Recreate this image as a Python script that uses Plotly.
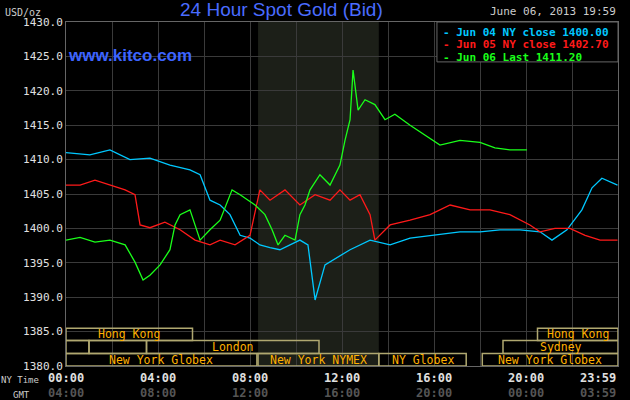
import plotly.graph_objects as go

# hours (NY time) and prices
jun04_h = [0.0, 1.04, 1.91, 2.78, 3.65, 4.52, 5.39, 5.83, 6.26, 6.7, 7.13, 7.57, 8.0, 8.43, 8.87, 9.3,
           9.74, 10.17, 10.52, 10.83, 11.26, 12.35, 13.22, 14.09, 14.96, 15.83, 17.13, 18.0, 18.87,
           19.74, 20.61, 21.13, 21.78, 22.43, 22.87, 23.3, 23.98]
jun04_p = [1411.0, 1410.7, 1411.4, 1410.0, 1410.2, 1409.2, 1408.5, 1407.8, 1404.1, 1403.4, 1402.0,
           1399.0, 1398.6, 1397.6, 1397.2, 1396.9, 1397.6, 1398.3, 1397.6, 1389.6, 1394.7, 1396.9,
           1398.3, 1397.6, 1398.6, 1399.0, 1399.5, 1399.5, 1399.8, 1399.8, 1399.5, 1398.3, 1399.8,
           1402.7, 1405.9, 1407.3, 1406.3]
jun05_h = [0.0, 0.61, 1.26, 1.91, 2.57, 3.0, 3.22, 3.65, 4.3, 4.96, 5.61, 6.26, 6.7, 7.35, 8.0, 8.43,
           8.87, 9.52, 10.17, 10.83, 11.48, 11.91, 12.35, 12.78, 13.22, 13.43, 14.09, 14.96, 15.83,
           16.7, 17.57, 18.43, 19.3, 20.17, 20.61, 21.26, 21.91, 22.57, 23.22, 23.98]
jun05_p = [1406.3, 1406.3, 1407.0, 1406.3, 1405.6, 1404.9, 1400.5, 1400.1, 1400.9, 1399.8, 1398.3,
           1397.6, 1398.3, 1397.6, 1399.0, 1405.6, 1404.1, 1405.6, 1403.4, 1404.9, 1404.1, 1405.6,
           1404.1, 1404.9, 1402.0, 1398.3, 1400.5, 1401.2, 1402.0, 1403.4, 1402.7, 1402.7, 1402.0,
           1400.5, 1399.5, 1400.0, 1400.0, 1399.0, 1398.3, 1398.3]
jun06_h = [0.0, 0.61, 1.26, 1.91, 2.57, 3.0, 3.35, 3.65, 4.09, 4.52, 4.74, 4.96, 5.39, 5.61, 5.83,
           6.26, 6.7, 7.22, 7.57, 8.22, 8.65, 8.96, 9.22, 9.52, 9.96, 10.17, 10.39, 10.61, 11.04,
           11.48, 11.91, 12.13, 12.35, 12.48, 12.7, 13.0, 13.43, 13.87, 14.3, 14.96, 15.61, 16.26,
           17.13, 18.0, 18.65, 19.3, 20.04]
jun06_p = [1398.3, 1398.7, 1398.0, 1398.3, 1397.6, 1395.1, 1392.5, 1393.2, 1394.7, 1396.9, 1400.5,
           1402.0, 1402.7, 1400.5, 1398.3, 1399.8, 1401.2, 1405.6, 1404.9, 1403.4, 1402.0, 1399.8,
           1397.6, 1399.0, 1398.3, 1402.0, 1403.4, 1405.6, 1407.8, 1406.3, 1409.2, 1412.8, 1415.8,
           1423.0, 1417.2, 1418.7, 1418.0, 1415.8, 1416.6, 1415.0, 1413.6, 1412.1, 1412.8, 1412.5,
           1411.7, 1411.4, 1411.4]

legend_txt = ["Jun 04 NY close 1400.00", "Jun 05 NY close 1402.70", "Jun 06 Last 1411.20"]
colors = ["#00c8ff", "#ff1a1a", "#1aff1a"]

# trading sessions: (row, start hour, end hour, label)
sessions = [(2, 0, 5.5, "Hong Kong"), (2, 20.5, 24, "Hong Kong"),
            (1, 0, 1, ""), (1, 1, 3.5, ""), (1, 3.5, 11, "London"), (1, 19, 24, "Sydney"),
            (0, 0, 8.3, "New York Globex"), (0, 8.35, 13.6, "New York NYMEX"),
            (0, 13.6, 17.4, "NY Globex"), (0, 18.1, 24, "New York Globex")]
row_y = [(1380.0, 1381.8), (1381.8, 1383.7), (1383.7, 1385.5)]

ny_ticks = [0, 4, 8, 12, 16, 20, 24]
ny_labels = ["00:00", "04:00", "08:00", "12:00", "16:00", "20:00", "23:59"]
gmt_labels = ["04:00", "08:00", "12:00", "16:00", "20:00", "00:00", "03:59"]

mono = "DejaVu Sans Mono"
fig = go.Figure()
for h, p, c in zip([jun04_h, jun05_h, jun06_h], [jun04_p, jun05_p, jun06_p], colors):
    fig.add_trace(go.Scatter(x=h, y=p, mode="lines", line=dict(color=c, width=1.3), hoverinfo="skip"))

shapes = [dict(type="rect", xref="x", yref="y", x0=8.35, x1=13.6, y0=1380, y1=1430,
               fillcolor="#1c1f18", line_width=0, layer="below")]
ann = []
for row, a, b, lab in sessions:
    y0, y1 = row_y[row]
    shapes.append(dict(type="rect", xref="x", yref="y", x0=a, x1=b, y0=y0, y1=y1,
                       line=dict(color="#b0a870", width=1.5)))
    if lab:
        ann.append(dict(x=(a + b) / 2, y=(y0 + y1) / 2, xref="x", yref="y", text=lab, showarrow=False,
                        font=dict(family=mono, size=11.5, color="#ffb000")))
for t, n, g in zip(ny_ticks, ny_labels, gmt_labels):
    xa = "right" if t == 24 else "center"
    ann.append(dict(x=t, y=-0.062, xref="x", yref="paper", text="<b>" + n + "</b>", showarrow=False,
                    xanchor=xa, font=dict(family=mono, size=12, color="#e0e0e0")))
    ann.append(dict(x=t, y=-0.105, xref="x", yref="paper", text="<b>" + g + "</b>", showarrow=False,
                    xanchor=xa, font=dict(family=mono, size=12, color="#555555")))
ann += [
    dict(x=-0.122, y=-0.062, xref="paper", yref="paper", text="NY Time", showarrow=False, xanchor="left",
         font=dict(family=mono, size=9, color="#cccccc")),
    dict(x=-0.1, y=-0.105, xref="paper", yref="paper", text="GMT", showarrow=False, xanchor="left",
         font=dict(family=mono, size=9, color="#cccccc")),
    dict(x=-0.115, y=1.005, xref="paper", yref="paper", text="USD/oz", showarrow=False, xanchor="left",
         yanchor="bottom", font=dict(family=mono, size=10, color="#cccccc")),
    dict(x=0.39, y=1.0, xref="paper", yref="paper", text="24 Hour Spot Gold (Bid)", showarrow=False,
         yanchor="bottom", font=dict(family="Liberation Sans", size=19, color="#4a6cff")),
    dict(x=0.0, y=0.935, xref="paper", yref="paper", text="<b>www.kitco.com</b>", showarrow=False,
         xanchor="left", yanchor="top", font=dict(family="Liberation Sans", size=17, color="#3c64ff")),
    dict(x=1.0, y=1.005, xref="paper", yref="paper", text="June 06, 2013 19:59", showarrow=False,
         xanchor="right", yanchor="bottom", font=dict(family=mono, size=11, color="#cccccc")),
]
shapes.append(dict(type="rect", xref="paper", yref="paper", x0=0.672, x1=1.0, y0=0.884, y1=1.0,
                   fillcolor="black", line=dict(color="#666666", width=1)))
for i, (t, c) in enumerate(zip(legend_txt, colors)):
    ann.append(dict(x=0.68, y=0.995 - i * 0.037, xref="paper", yref="paper", text="<b>- " + t + "</b>",
                    showarrow=False, xanchor="left", yanchor="top",
                    font=dict(family=mono, size=11, color=c)))

fig.update_layout(
    width=630, height=400, margin=dict(l=66, r=12, t=22, b=34),
    paper_bgcolor="black", plot_bgcolor="black", showlegend=False,
    shapes=shapes, annotations=ann,
    xaxis=dict(range=[0, 24], tickvals=list(range(0, 25, 2)), showticklabels=False, automargin=False,
               showgrid=True, gridcolor="#3a3a3a", zeroline=False, showline=True, linecolor="#666666",
               mirror=True),
    yaxis=dict(range=[1380, 1430], dtick=5, tickformat=".1f", showgrid=True, gridcolor="#3a3a3a",
               zeroline=False, showline=True, linecolor="#666666", mirror=True, automargin=False,
               tickfont=dict(family=mono, size=11, color="#e0e0e0"), ticks=""),
)
fig.write_html("out.html", config={"displayModeBar": False},
               post_script="document.body.style.margin='0';document.body.style.background='black';")
